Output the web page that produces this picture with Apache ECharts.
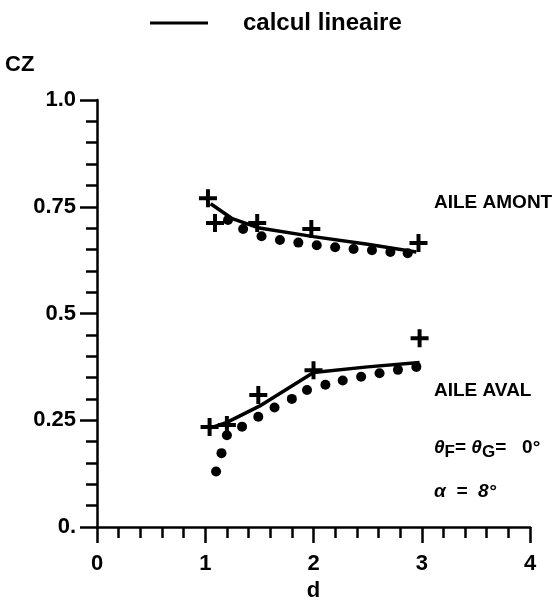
<!DOCTYPE html>
<html>
<head>
<meta charset="utf-8">
<script src="https://cdn.jsdelivr.net/npm/echarts@6/dist/echarts.min.js"></script>
<style>
  html, body { margin: 0; padding: 0; background: #fff; }
  #chart { width: 557px; height: 607px; }
</style>
</head>
<body>
<div id="chart"></div>
<script>
// calcul lineaire (lines)
var amontLineD = [1.05, 1.25, 1.5, 2.0, 2.5, 2.95];
var amontLineCz = [0.757, 0.722, 0.700, 0.680, 0.662, 0.644];
var avalLineD = [1.05, 1.2, 1.5, 2.0, 2.5, 2.98];
var avalLineCz = [0.232, 0.245, 0.283, 0.362, 0.375, 0.385];

// crosses
var amontCrossD = [1.025, 1.09, 1.48, 1.98, 2.97];
var amontCrossCz = [0.770, 0.712, 0.712, 0.698, 0.665];
var avalCrossD = [1.04, 1.20, 1.49, 2.0, 2.98];
var avalCrossCz = [0.234, 0.239, 0.309, 0.367, 0.442];

// dots
var amontDotD = [1.21, 1.35, 1.52, 1.69, 1.86, 2.03, 2.20, 2.37, 2.54, 2.71, 2.87];
var amontDotCz = [0.719, 0.698, 0.681, 0.672, 0.666, 0.660, 0.655, 0.651, 0.648, 0.644, 0.641];
var avalDotD = [1.10, 1.15, 1.20, 1.34, 1.49, 1.64, 1.80, 1.94, 2.11, 2.27, 2.44, 2.61, 2.78, 2.95];
var avalDotCz = [0.130, 0.173, 0.215, 0.235, 0.258, 0.280, 0.300, 0.321, 0.333, 0.343, 0.352, 0.360, 0.368, 0.375];

var yTickLabels = {0: '0.', 0.25: '0.25', 0.5: '0.5', 0.75: '0.75', 1: '1.0'};

function pairs(xs, ys) {
  return xs.map(function (x, i) { return [x, ys[i]]; });
}

var crossPath = 'path://M39,0h22v39h39v22h-39v39h-22v-39h-39v-22h39z';
var font = '"Liberation Sans", Arial, sans-serif';

var chart = echarts.init(document.getElementById('chart'));

var option = {
  backgroundColor: '#fff',
  animation: false,
  legend: {
    data: ['calcul lineaire'],
    left: 145,
    top: 6,
    icon: 'rect',
    itemWidth: 58,
    itemHeight: 3,
    textStyle: {
      color: '#000',
      fontFamily: font,
      fontSize: 24,
      fontWeight: 'bold',
      padding: [0, 0, 0, 30]
    }
  },
  grid: { left: 97, right: 27, top: 100, bottom: 80 },
  xAxis: {
    type: 'value',
    min: 0,
    max: 4,
    interval: 1,
    name: 'd',
    nameLocation: 'middle',
    nameGap: 48,
    nameTextStyle: { color: '#000', fontFamily: font, fontSize: 22, fontWeight: 'bold' },
    axisLine: { lineStyle: { color: '#000', width: 2.5 } },
    axisTick: { length: 16, lineStyle: { color: '#000', width: 2.5 } },
    minorTick: { show: true, splitNumber: 5, length: 11, lineStyle: { color: '#000', width: 2.5 } },
    splitLine: { show: false },
    axisLabel: { color: '#000', fontFamily: font, fontSize: 22, fontWeight: 'bold', margin: 26 }
  },
  yAxis: {
    type: 'value',
    min: 0,
    max: 1,
    interval: 0.25,
    axisLine: { lineStyle: { color: '#000', width: 2.5 } },
    axisTick: { length: 17, lineStyle: { color: '#000', width: 2.5 } },
    minorTick: { show: true, splitNumber: 5, length: 11, lineStyle: { color: '#000', width: 2.5 } },
    splitLine: { show: false },
    axisLabel: {
      color: '#000', fontFamily: font, fontSize: 22, fontWeight: 'bold', margin: 21,
      formatter: function (v) { return yTickLabels[v]; }
    }
  },
  graphic: [
    { type: 'text', left: 5, top: 54,
      style: { text: 'CZ', font: 'bold 22px ' + font, fill: '#000' } },
    { type: 'text', left: 434, top: 193,
      style: { text: 'AILE AMONT', font: 'bold 19px ' + font, fill: '#000' } },
    { type: 'text', left: 434, top: 381,
      style: { text: 'AILE AVAL', font: 'bold 19px ' + font, fill: '#000' } },
    { type: 'text', left: 434, top: 438,
      style: {
        text: '{t|θ}{s|F}{n|= }{t|θ}{s|G}{n|=   0°}',
        fill: '#000',
        rich: {
          t: { font: 'italic bold 19px ' + font, fill: '#000' },
          s: { font: 'bold 17px ' + font, fill: '#000', verticalAlign: 'bottom', padding: [10, 0, 0, 0] },
          n: { font: 'bold 19px ' + font, fill: '#000' }
        }
      } },
    { type: 'text', left: 434, top: 482,
      style: { text: 'α  =  8°', font: 'italic bold 19px ' + font, fill: '#000' } }
  ],
  series: [
    {
      name: 'calcul lineaire',
      type: 'line',
      data: pairs(amontLineD, amontLineCz),
      symbol: 'none',
      lineStyle: { color: '#000', width: 3.5 },
      itemStyle: { color: '#000' }
    },
    {
      name: 'calcul lineaire',
      type: 'line',
      data: pairs(avalLineD, avalLineCz),
      symbol: 'none',
      lineStyle: { color: '#000', width: 3.5 },
      itemStyle: { color: '#000' }
    },
    {
      name: 'amont croix',
      type: 'scatter',
      data: pairs(amontCrossD, amontCrossCz),
      symbol: crossPath,
      symbolSize: 18,
      itemStyle: { color: '#000', opacity: 1 }
    },
    {
      name: 'aval croix',
      type: 'scatter',
      data: pairs(avalCrossD, avalCrossCz),
      symbol: crossPath,
      symbolSize: 18,
      itemStyle: { color: '#000', opacity: 1 }
    },
    {
      name: 'amont points',
      type: 'scatter',
      data: pairs(amontDotD, amontDotCz),
      symbol: 'circle',
      symbolSize: 10,
      itemStyle: { color: '#000', opacity: 1 }
    },
    {
      name: 'aval points',
      type: 'scatter',
      data: pairs(avalDotD, avalDotCz),
      symbol: 'circle',
      symbolSize: 10,
      itemStyle: { color: '#000', opacity: 1 }
    }
  ]
};

chart.setOption(option);
</script>
</body>
</html>
